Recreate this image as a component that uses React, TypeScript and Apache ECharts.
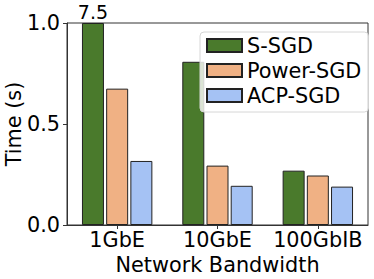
import React, { useEffect, useRef } from "react";
import * as echarts from "echarts";

const categories = ["1GbE", "10GbE", "100GbIB"];
const seriesNames = ["S-SGD", "Power-SGD", "ACP-SGD"];
const sSgd = [7.5, 0.808, 0.269];
const powerSgd = [0.675, 0.294, 0.245];
const acpSgd = [0.317, 0.194, 0.19];
const colors = ["#4a7a2c", "#f0b184", "#a5c2f4"];
const Y_MAX = 1.0;

const FONT = "DejaVu Sans";
const FS = 20.8;

export default function App() {
  const ref = useRef<HTMLDivElement>(null);
  useEffect(() => {
    if (!ref.current) return;
    const chart = echarts.init(ref.current, null, { renderer: "svg" });
    const all = [sSgd, powerSgd, acpSgd];
    const series = all.map((vals, i) => ({
      name: seriesNames[i],
      type: "bar",
      barWidth: 22,
      barGap: "10%",
      itemStyle: { color: colors[i], borderColor: "#222", borderWidth: 1 },
      data: vals.map((v) =>
        v > Y_MAX
          ? {
              value: Y_MAX,
              label: {
                show: true,
                position: "top",
                distance: 2,
                formatter: String(v),
                fontFamily: FONT,
                fontSize: 19,
                color: "#000",
              },
            }
          : { value: v }
      ),
    }));
    chart.setOption({
      animation: false,
      textStyle: { fontFamily: FONT },
      grid: {
        left: 67,
        right: 6,
        top: 23,
        bottom: 54,
        containLabel: false,
        outerBoundsMode: "none",
        show: true,
        borderColor: "#333",
        borderWidth: 1,
        backgroundColor: "transparent",
      },
      legend: {
        orient: "vertical",
        left: 200,
        top: 32,
        icon: "rect",
        itemWidth: 35,
        itemHeight: 13,
        itemGap: 4,
        itemTextGap: 9,
        padding: [3, 7, 6, 6],
        backgroundColor: "rgba(255,255,255,0.8)",
        borderColor: "#d6d6d6",
        borderWidth: 1,
        borderRadius: 4,
        textStyle: { fontFamily: FONT, fontSize: FS, lineHeight: 21, color: "#000" },
        data: seriesNames,
      },
      xAxis: {
        type: "category",
        data: categories,
        boundaryGap: true,
        name: "Network Bandwidth",
        nameLocation: "middle",
        nameGap: 29,
        nameMoveOverlap: false,
        nameTextStyle: { fontFamily: FONT, fontSize: FS, color: "#000" },
        axisLine: { show: true, lineStyle: { color: "#333", width: 1 } },
        axisTick: { show: true, alignWithLabel: true, length: 4, lineStyle: { color: "#333" } },
        axisLabel: { fontFamily: FONT, fontSize: FS, color: "#000", margin: 4, interval: 0, hideOverlap: false },
        splitLine: { show: false },
      },
      yAxis: {
        type: "value",
        min: 0,
        max: Y_MAX,
        interval: 0.5,
        name: "Time (s)",
        nameLocation: "middle",
        nameGap: 43,
        nameMoveOverlap: false,
        nameTextStyle: { fontFamily: FONT, fontSize: FS, color: "#000" },
        axisLine: { show: true, lineStyle: { color: "#333", width: 1 } },
        axisTick: { show: true, length: 4, lineStyle: { color: "#333" } },
        axisLabel: {
          fontFamily: FONT,
          fontSize: FS,
          color: "#000",
          margin: 7,
          formatter: (v: number) => v.toFixed(1),
        },
        splitLine: { show: false },
      },
      series,
    });
    return () => chart.dispose();
  }, []);
  return (
    <div
      ref={ref}
      style={{ position: "fixed", left: 0, top: 0, width: 374, height: 279, background: "#fff" }}
    />
  );
}
